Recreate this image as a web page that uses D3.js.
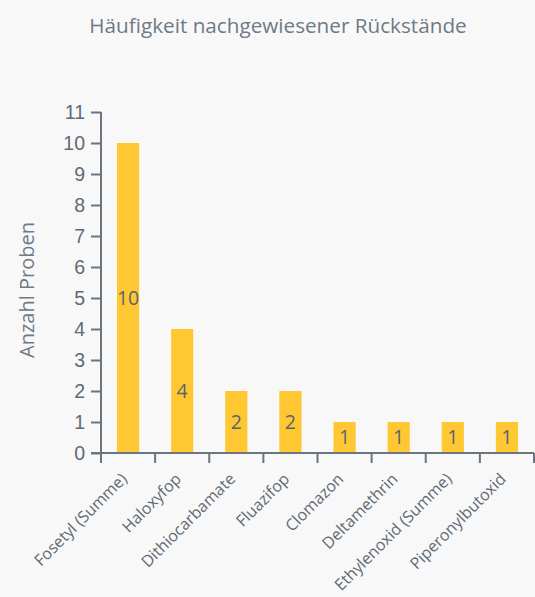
<!DOCTYPE html>
<html>
<head>
<meta charset="utf-8">
<script src="https://cdn.jsdelivr.net/npm/d3@7"></script>
<style>
  body { margin: 0; background: #f8f8f8; }
  svg { display: block; font-family: "Open Sans", sans-serif; }
  .axis path, .axis line { stroke: #6b7580; stroke-width: 2; }
  .axis text { fill: #5f6a75; }
</style>
</head>
<body>
<div id="chart"></div>
<script>
var categories = ["Fosetyl (Summe)", "Haloxyfop", "Dithiocarbamate", "Fluazifop",
    "Clomazon", "Deltamethrin", "Ethylenoxid (Summe)", "Piperonylbutoxid"];
var counts = [10, 4, 2, 2, 1, 1, 1, 1];
var yTicks = [0, 1, 2, 3, 4, 5, 6, 7, 8, 9, 10, 11];

var width = 535, height = 597;
var margin = { top: 112, right: 1, bottom: 144, left: 101 };
var innerW = width - margin.left - margin.right;
var innerH = height - margin.top - margin.bottom;

var svg = d3.select("#chart").append("svg")
    .attr("width", width)
    .attr("height", height);

svg.append("text")
    .attr("x", 278)
    .attr("y", 33)
    .attr("text-anchor", "middle")
    .attr("font-size", 20.7)
    .attr("fill", "#6e7a85")
    .text("Häufigkeit nachgewiesener Rückstände");

var g = svg.append("g")
    .attr("transform", "translate(" + margin.left + "," + margin.top + ")");

var x = d3.scaleBand()
    .domain(categories)
    .range([0, innerW])
    .paddingInner(0.59)
    .paddingOuter(0.295);

var y = d3.scaleLinear()
    .domain([0, 11])
    .range([innerH, 0]);

// band boundaries for the x ticks
var step = x.step();
var boundaries = d3.range(categories.length + 1).map(function(i) { return i * step; });

var yAxis = g.append("g")
    .attr("class", "axis y")
    .call(d3.axisLeft(y).tickValues(yTicks).tickSize(10).tickSizeOuter(0).tickPadding(6));
yAxis.selectAll("text").attr("font-size", 19.5);
yAxis.select(".domain").attr("d", "M0," + innerH + "V" + y(11));

g.selectAll("rect.bar")
    .data(counts)
    .enter().append("rect")
    .attr("class", "bar")
    .attr("x", function(d, i) { return x(categories[i]); })
    .attr("y", function(d) { return y(d); })
    .attr("width", x.bandwidth())
    .attr("height", function(d) { return innerH - y(d); })
    .attr("fill", "#ffc832");

g.selectAll("text.val")
    .data(counts)
    .enter().append("text")
    .attr("class", "val")
    .attr("x", function(d, i) { return x(categories[i]) + x.bandwidth() / 2; })
    .attr("y", function(d) { return y(d / 2); })
    .attr("dy", "0.35em")
    .attr("text-anchor", "middle")
    .attr("font-size", 19.5)
    .attr("fill", "#5a646e")
    .text(function(d) { return d; });

var xAxis = g.append("g")
    .attr("class", "axis x")
    .attr("transform", "translate(0," + innerH + ")");
xAxis.append("path")
    .attr("d", "M-10,0H" + innerW)
    .attr("fill", "none");
xAxis.selectAll("line")
    .data(boundaries)
    .enter().append("line")
    .attr("x1", function(d) { return d; })
    .attr("x2", function(d) { return d; })
    .attr("y1", 0)
    .attr("y2", 10);

xAxis.selectAll("text")
    .data(categories)
    .enter().append("text")
    .attr("transform", function(d) {
        return "translate(" + (x(d) + x.bandwidth() / 2 - 4) + ",23) rotate(-45)";
    })
    .attr("text-anchor", "end")
    .attr("dy", "0.35em")
    .attr("font-size", 16)
    .attr("fill", "#6e7a85")
    .text(function(d) { return d; });

svg.append("text")
    .attr("transform", "translate(34,290) rotate(-90)")
    .attr("text-anchor", "middle")
    .attr("font-size", 20)
    .attr("fill", "#6e7a85")
    .text("Anzahl Proben");
</script>
</body>
</html>
